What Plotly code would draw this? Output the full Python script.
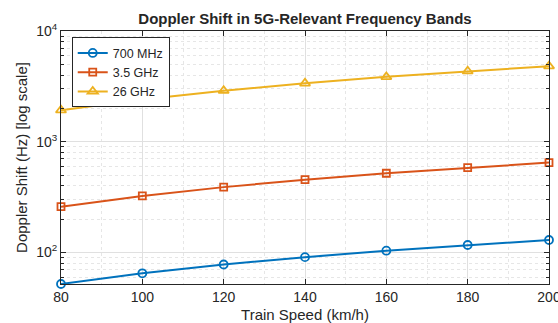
import plotly.graph_objects as go

speeds = [80, 100, 120, 140, 160, 180, 200]
f700 = [51.9, 64.8, 77.8, 90.7, 103.7, 116.7, 129.6]
f3500 = [259, 324, 389, 454, 519, 583, 648]
f26000 = [1926, 2407, 2889, 3370, 3852, 4333, 4815]
series_names = ["700 MHz", "3.5 GHz", "26 GHz"]
colors = ["#0072BD", "#D95319", "#EDB120"]
symbols = ["circle-open", "square-open", "triangle-up-open"]
sizes = [8, 7, 9]

fig = go.Figure()
for name, vals, c, s, sz in zip(series_names, [f700, f3500, f26000], colors, symbols, sizes):
    fig.add_trace(go.Scatter(
        x=speeds, y=vals, mode="lines+markers", name=name,
        line=dict(color=c, width=2),
        marker=dict(symbol=s, size=sz, color=c, line=dict(color=c, width=1.8)),
        cliponaxis=False,
    ))

font = "Liberation Sans, Arial, sans-serif"
minor_y = [m * 10 ** d for d in range(1, 4) for m in range(2, 10)]
fig.update_layout(
    width=558, height=323,
    margin=dict(l=61, r=9, t=31, b=39),
    paper_bgcolor="white", plot_bgcolor="white",
    font=dict(family=font, size=14, color="#262626"),
    title=dict(text="<b>Doppler Shift in 5G-Relevant Frequency Bands</b>",
               x=0.5, xanchor="center", xref="paper", y=1, yref="container",
               yanchor="top", pad=dict(t=13), font=dict(size=15, color="#262626")),
    legend=dict(x=0.022, y=0.975, xanchor="left", yanchor="top",
                bgcolor="white", bordercolor="#262626", borderwidth=1,
                font=dict(size=12.5), tracegroupgap=0),
    showlegend=True,
)
fig.update_xaxes(
    range=[80, 200], tickvals=[80, 100, 120, 140, 160, 180, 200],
    ticks="inside", ticklen=5, tickcolor="#262626", mirror="ticks",
    showline=True, linecolor="#262626", linewidth=1,
    showgrid=True, gridcolor="#E0E0E0", gridwidth=1,
    zeroline=False, ticklabeloverflow="allow", automargin=False,
    minor=dict(tickvals=[90, 110, 130, 150, 170, 190], ticks="", showgrid=True,
               gridcolor="#E6E6E6", griddash="dot", gridwidth=1),
    title=dict(text="Train Speed (km/h)", font=dict(size=15), standoff=6),
    tickfont=dict(size=14),
)
fig.update_yaxes(
    type="log", range=[1.715, 4],
    tickvals=[100, 1000, 10000], ticktext=["10<sup>2</sup>", "10<sup>3</sup>", "10<sup>4</sup>"],
    ticks="inside", ticklen=5, tickcolor="#262626", mirror="ticks",
    showline=True, linecolor="#262626", linewidth=1,
    showgrid=True, gridcolor="#E0E0E0", gridwidth=1,
    zeroline=False, automargin=False,
    minor=dict(tickvals=minor_y, ticks="inside", ticklen=3, tickcolor="#262626",
               showgrid=True, gridcolor="#E6E6E6", griddash="dot", gridwidth=1),
    title=dict(text="Doppler Shift (Hz) [log scale]", font=dict(size=15), standoff=4),
    tickfont=dict(size=14),
)
fig.write_html("out.html")
